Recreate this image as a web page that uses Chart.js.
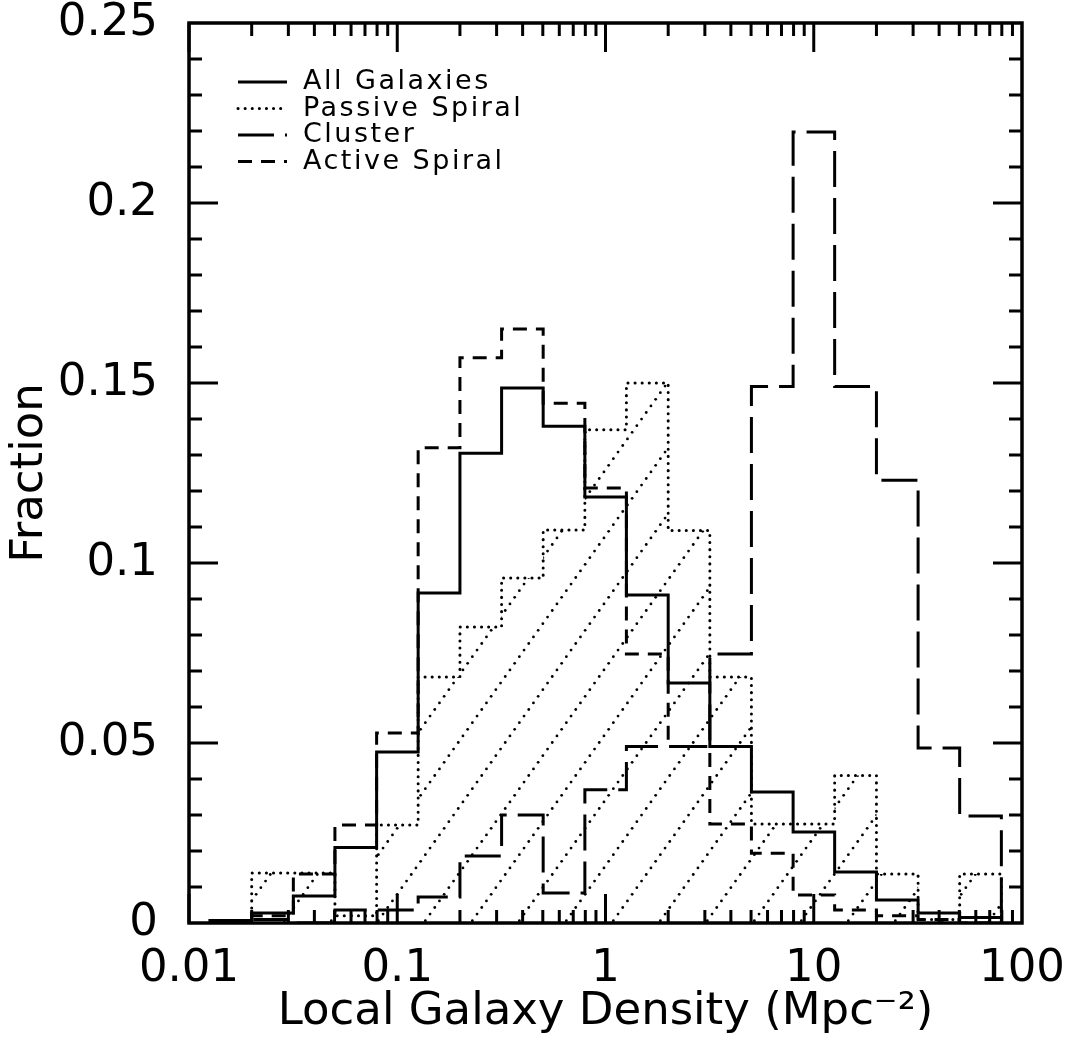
<!DOCTYPE html>
<html>
<head>
<meta charset="utf-8">
<script src="https://cdn.jsdelivr.net/npm/chart.js@4.4.1/dist/chart.umd.min.js"></script>
<style>
  body { margin: 0; background: #fff; }
  #wrap { width: 1069px; height: 1040px; }
</style>
</head>
<body>
<div id="wrap"><canvas id="densityChart"></canvas></div>
<script>
// bin edges in Mpc^-2 (0.2 dex bins)
const binEdges = [0.0126, 0.02, 0.0317, 0.0502, 0.0796, 0.126, 0.2, 0.317, 0.502, 0.796,
                  1.26, 2.0, 3.17, 5.02, 7.96, 12.6, 20.0, 31.7, 50.2, 79.6];

// fraction per bin
const allGalaxies   = [0.0007, 0.0028, 0.0075, 0.021, 0.0475, 0.0917, 0.1305, 0.1486, 0.138, 0.1183,
                       0.0911, 0.0667, 0.049, 0.0364, 0.0253, 0.0142, 0.0064, 0.0028, 0.0015];
const passiveSpiral = [0, 0.0139, 0.0139, 0.002, 0.0272, 0.0683, 0.0822, 0.0958, 0.1092, 0.137,
                       0.150, 0.109, 0.0683, 0.0275, 0.0275, 0.041, 0.0136, 0.001, 0.0136];
const cluster       = [0, 0.001, 0, 0.0036, 0.0036, 0.0072, 0.0186, 0.030, 0.0083, 0.037,
                       0.049, 0.049, 0.0747, 0.149, 0.2197, 0.149, 0.123, 0.0486, 0.0297];
const activeSpiral  = [0, 0.002, 0.0136, 0.0272, 0.0528, 0.132, 0.157, 0.165, 0.1444, 0.1208,
                       0.0747, 0.049, 0.0275, 0.0194, 0.0078, 0.0036, 0.002, 0.001, 0];

const xTicks = [0.01, 0.1, 1, 10, 100];
const xTickLabels = ['0.01', '0.1', '1', '10', '100'];
const yTicks = [0, 0.05, 0.1, 0.15, 0.2, 0.25];
const yTickLabels = ['0', '0.05', '0.1', '0.15', '0.2', '0.25'];

// turn bin values into a step outline
function histPoints(vals) {
    const pts = [{ x: binEdges[0], y: 0 }];
    vals.forEach((v, i) => {
        pts.push({ x: binEdges[i], y: v });
        pts.push({ x: binEdges[i + 1], y: v });
    });
    pts.push({ x: binEdges[binEdges.length - 1], y: 0 });
    return pts;
}

// dotted diagonal hatching for the passive spirals
function makeHatch() {
    const c = document.createElement('canvas');
    const w = 47, h = 66;
    c.width = w; c.height = h;
    const g = c.getContext('2d');
    g.fillStyle = '#000';
    for (let k = 0; k < 10; k++) {
        const t = (k + 0.5) / 10;
        g.beginPath();
        g.arc(t * w, h - t * h, 1.4, 0, Math.PI * 2);
        g.fill();
    }
    return g.createPattern(c, 'repeat');
}

const legendRows = [
    { text: 'All Galaxies', ds: 0 },
    { text: 'Passive Spiral', ds: 1 },
    { text: 'Cluster', ds: 2 },
    { text: 'Active Spiral', ds: 3 }
];

const framePlugin = {
    id: 'frame',
    afterDraw(chart) {
        const { ctx, chartArea: a, scales: { x, y } } = chart;
        ctx.save();
        ctx.strokeStyle = '#000';
        ctx.lineWidth = 3;
        ctx.setLineDash([]);
        ctx.beginPath();
        // x ticks pointing inward, top and bottom
        for (let d = 0.01; d < 100; d *= 10) {
            for (let m = 1; m <= 9; m++) {
                const px = x.getPixelForValue(d * m);
                const len = m === 1 ? 29 : 13;
                ctx.moveTo(px, a.bottom); ctx.lineTo(px, a.bottom - len);
                ctx.moveTo(px, a.top); ctx.lineTo(px, a.top + len);
            }
        }
        // y ticks every 0.01, longer every 0.05
        for (let i = 1; i < 25; i++) {
            const py = y.getPixelForValue(i / 100);
            const len = i % 5 === 0 ? 29 : 13;
            ctx.moveTo(a.left, py); ctx.lineTo(a.left + len, py);
            ctx.moveTo(a.right, py); ctx.lineTo(a.right - len, py);
        }
        ctx.stroke();
        ctx.lineWidth = 3.5;
        ctx.strokeRect(a.left, a.top, a.width, a.height);

        // legend in the top-left corner
        ctx.font = '27px "DejaVu Sans"';
        ctx.letterSpacing = '2.5px';
        ctx.fillStyle = '#000';
        ctx.textBaseline = 'middle';
        legendRows.forEach((row, i) => {
            const ds = chart.data.datasets[row.ds];
            const ly = 82 + i * 26.5;
            ctx.beginPath();
            ctx.lineWidth = ds.borderWidth;
            ctx.lineCap = ds.borderCapStyle || 'butt';
            ctx.setLineDash(ds.borderDash || []);
            ctx.moveTo(238, ly);
            ctx.lineTo(287, ly);
            ctx.stroke();
            ctx.fillText(row.text, 303, ly);
        });
        ctx.restore();
    }
};

Chart.defaults.font.family = '"DejaVu Sans", sans-serif';
Chart.defaults.color = '#000';

new Chart(document.getElementById('densityChart'), {
    type: 'line',
    data: {
        datasets: [
            {
                label: 'All Galaxies',
                data: histPoints(allGalaxies),
                borderColor: '#000',
                borderWidth: 3,
                borderDash: [],
                pointRadius: 0,
                fill: false
            },
            {
                label: 'Passive Spiral',
                data: histPoints(passiveSpiral),
                borderColor: '#000',
                borderWidth: 3,
                borderDash: [0.1, 7],
                borderCapStyle: 'round',
                backgroundColor: makeHatch(),
                pointRadius: 0,
                fill: 'origin'
            },
            {
                label: 'Cluster',
                data: histPoints(cluster),
                borderColor: '#000',
                borderWidth: 3,
                borderDash: [36, 11],
                pointRadius: 0,
                fill: false
            },
            {
                label: 'Active Spiral',
                data: histPoints(activeSpiral),
                borderColor: '#000',
                borderWidth: 3,
                borderDash: [14, 9],
                pointRadius: 0,
                fill: false
            }
        ]
    },
    options: {
        responsive: true,
        maintainAspectRatio: false,
        animation: false,
        layout: { padding: { top: 23, right: 47, left: 0, bottom: 0 } },
        plugins: {
            legend: { display: false },
            tooltip: { enabled: false }
        },
        scales: {
            x: {
                type: 'logarithmic',
                min: 0.01,
                max: 100,
                grid: { display: false, drawTicks: false },
                border: { display: false },
                afterBuildTicks: s => { s.ticks = xTicks.map(v => ({ value: v })); },
                afterFit: s => { s.height = 117; s.paddingLeft = 0; s.paddingRight = 0; },
                ticks: {
                    autoSkip: false,
                    maxRotation: 0,
                    padding: 19,
                    font: { size: 45 },
                    callback: (v, i) => xTickLabels[i]
                },
                title: {
                    display: true,
                    text: 'Local Galaxy Density (Mpc⁻²)',
                    font: { size: 45 },
                    padding: { top: 0, bottom: 1 }
                }
            },
            y: {
                min: 0,
                max: 0.25,
                grid: { display: false, drawTicks: false },
                border: { display: false },
                afterBuildTicks: s => { s.ticks = yTicks.map(v => ({ value: v })); },
                afterFit: s => { s.width = 189; s.paddingTop = 0; s.paddingBottom = 0; },
                ticks: {
                    padding: 31,
                    font: { size: 45 },
                    callback: (v, i) => yTickLabels[i]
                },
                title: {
                    display: true,
                    text: 'Fraction',
                    font: { size: 45 },
                    padding: { top: 3, bottom: 0 }
                }
            }
        }
    },
    plugins: [framePlugin]
});
</script>
</body>
</html>
